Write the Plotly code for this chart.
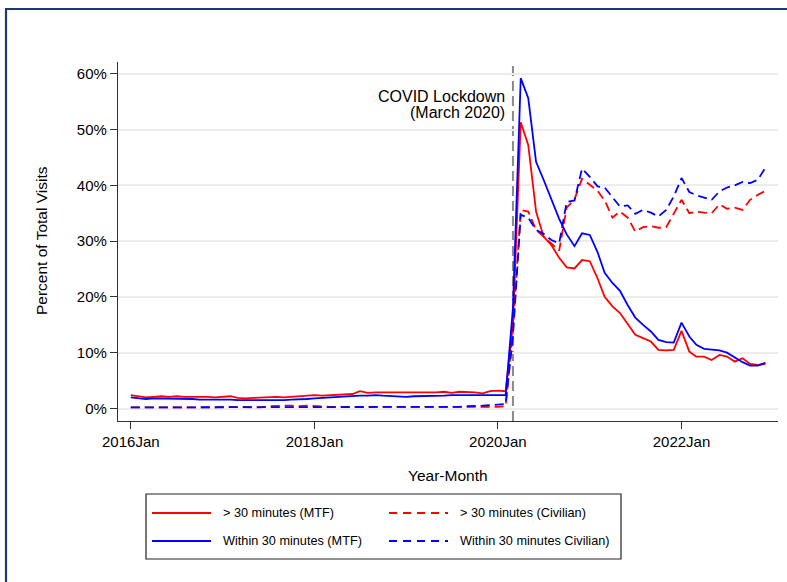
import pandas as pd
import plotly.graph_objects as go

# Monthly share of total visits (%), January 2016 through December 2022
over30_mtf = [
    2.4, 2.2, 2.0, 2.1, 2.2, 2.1, 2.2, 2.1, 2.1, 2.2,
    2.1, 2.0, 2.1, 2.2, 1.9, 1.8, 1.9, 2.0, 2.0, 2.1,
    2.0, 2.1, 2.1, 2.2, 2.4, 2.3, 2.4, 2.5, 2.6, 2.6,
    3.1, 2.8, 2.9, 2.9, 2.8, 2.9, 2.9, 2.8, 2.8, 2.8,
    2.9, 3.0, 2.8, 3.0, 3.0, 2.9, 2.7, 3.1, 3.2, 3.1,
    15.0, 51.3, 47.2, 35.3, 30.8, 29.3, 27.0, 25.3, 25.1, 26.6,
    26.4, 23.3, 20.0, 18.3, 17.1, 15.0, 13.2, 12.6, 12.0, 10.5,
    10.4, 10.5, 13.9, 10.2, 9.3, 9.3, 8.7, 9.6, 9.3, 8.4,
    9.0, 8.0, 7.8, 8.0,
]
within30_mtf = [
    2.0, 1.9, 1.7, 1.8, 1.8, 1.7, 1.7, 1.7, 1.7, 1.6,
    1.6, 1.6, 1.7, 1.6, 1.5, 1.5, 1.5, 1.5, 1.4, 1.5,
    1.5, 1.6, 1.6, 1.7, 1.8, 1.9, 2.0, 2.1, 2.2, 2.2,
    2.3, 2.3, 2.4, 2.3, 2.2, 2.1, 2.1, 2.2, 2.2, 2.3,
    2.3, 2.3, 2.4, 2.4, 2.4, 2.4, 2.3, 2.4, 2.4, 2.4,
    18.0, 59.2, 55.6, 44.2, 41.0, 37.5, 34.0, 31.2, 29.1, 31.4,
    31.1, 28.0, 24.3, 22.5, 21.1, 18.5, 16.3, 15.0, 13.8, 12.3,
    11.9, 11.8, 15.4, 12.9, 11.4, 10.7, 10.5, 10.4, 10.0, 9.2,
    8.3, 7.7, 7.7, 8.2,
]
over30_civ = [
    0.2, 0.2, 0.1, 0.1, 0.1, 0.2, 0.2, 0.2, 0.2, 0.2,
    0.2, 0.2, 0.3, 0.3, 0.3, 0.3, 0.2, 0.2, 0.4, 0.5,
    0.5, 0.5, 0.4, 0.5, 0.4, 0.3, 0.3, 0.3, 0.3, 0.3,
    0.3, 0.3, 0.3, 0.3, 0.3, 0.3, 0.3, 0.3, 0.3, 0.3,
    0.2, 0.2, 0.2, 0.3, 0.3, 0.3, 0.3, 0.3, 0.3, 0.4,
    14.0, 35.6, 35.3, 32.0, 30.8, 29.6, 28.3, 36.0, 37.5, 41.2,
    40.1, 39.0, 37.3, 34.2, 35.3, 34.2, 31.7, 32.5, 32.7, 32.4,
    32.5, 34.8, 37.4, 35.0, 35.3, 35.1, 35.0, 36.6, 35.8, 36.0,
    35.6, 37.4, 38.3, 39.0,
]
within30_civ = [
    0.2, 0.2, 0.2, 0.2, 0.2, 0.2, 0.2, 0.2, 0.2, 0.2,
    0.2, 0.2, 0.2, 0.2, 0.2, 0.2, 0.3, 0.3, 0.3, 0.3,
    0.3, 0.3, 0.3, 0.3, 0.3, 0.3, 0.3, 0.3, 0.3, 0.3,
    0.3, 0.3, 0.3, 0.3, 0.3, 0.3, 0.3, 0.3, 0.3, 0.3,
    0.3, 0.3, 0.3, 0.3, 0.4, 0.4, 0.5, 0.6, 0.7, 0.8,
    13.0, 34.7, 34.2, 32.0, 31.3, 30.2, 29.6, 37.0, 37.3, 43.0,
    41.5, 39.8, 39.6, 37.8, 36.2, 36.4, 34.9, 35.6, 35.1, 34.4,
    35.6, 38.0, 41.3, 38.8, 38.2, 37.8, 37.4, 38.9, 39.6, 40.0,
    40.6, 40.4, 41.0, 43.2,
]

months = pd.date_range("2016-01-01", periods=len(over30_mtf), freq="MS")

x_tick_vals = ["2016-01-01", "2018-01-01", "2020-01-01", "2022-01-01"]
x_tick_text = ["2016Jan", "2018Jan", "2020Jan", "2022Jan"]
y_tick_vals = [0, 10, 20, 30, 40, 50, 60]
y_tick_text = ["0%", "10%", "20%", "30%", "40%", "50%", "60%"]

lockdown = "2020-03-01"

RED = "#ff0000"
BLUE = "#0000ff"
FONT = "Liberation Sans, Arial, Helvetica, sans-serif"
DASH = "9px,5px"

series = [
    ("> 30 minutes (MTF)", over30_mtf, RED, "solid"),
    ("> 30 minutes (Civilian)", over30_civ, RED, DASH),
    ("Within 30 minutes (MTF)", within30_mtf, BLUE, "solid"),
    ("Within 30 minutes Civilian)", within30_civ, BLUE, DASH),
]

fig = go.Figure()
for name, vals, color, dash in series:
    fig.add_trace(go.Scatter(
        x=months, y=vals, mode="lines", name=name,
        line=dict(color=color, width=1.8, dash=dash),
        showlegend=False,
    ))

# Plot area geometry in pixels (used for placing the hand-built legend)
W, H = 787, 582
ML, MR, MT, MB = 118, 9, 62, 161
PW, PH = W - ML - MR, H - MT - MB


def px_x(px):
    return (px - ML) / PW


def px_y(py):
    return (H - MB - py) / PH


shapes = []
annotations = []

# Outer graph frame
shapes.append(dict(type="rect", xref="paper", yref="paper",
                   x0=px_x(6), x1=px_x(W + 20), y0=px_y(H + 20), y1=px_y(9),
                   line=dict(color="#1d3a70", width=2.2), fillcolor="rgba(0,0,0,0)"))

# Lockdown marker
shapes.append(dict(type="line", xref="x", yref="paper", x0=lockdown, x1=lockdown,
                   y0=0, y1=1, layer="between",
                   line=dict(color="#8a8a8a", width=2, dash="10px,5px")))
annotations.append(dict(x=lockdown, xref="x", y=px_y(96), yref="paper",
                        text="COVID Lockdown", showarrow=False, xanchor="right",
                        yanchor="middle", xshift=-6,
                        font=dict(family=FONT, size=16, color="black")))
annotations.append(dict(x=lockdown, xref="x", y=px_y(113), yref="paper",
                        text="(March 2020)", showarrow=False, xanchor="right",
                        yanchor="middle", xshift=-6,
                        font=dict(family=FONT, size=16, color="black")))

# Axis titles
annotations.append(dict(x=px_x(41), y=px_y(241), xref="paper", yref="paper",
                        text="Percent of Total Visits", textangle=-90, showarrow=False,
                        xanchor="center", yanchor="middle",
                        font=dict(family=FONT, size=15.5, color="black")))
annotations.append(dict(x=px_x(448), y=px_y(475), xref="paper", yref="paper",
                        text="Year-Month", showarrow=False,
                        xanchor="center", yanchor="middle",
                        font=dict(family=FONT, size=15.5, color="black")))

# Legend box with two columns
shapes.append(dict(type="rect", xref="paper", yref="paper",
                   x0=px_x(146), x1=px_x(621), y0=px_y(559), y1=px_y(494),
                   line=dict(color="#222222", width=1.2), fillcolor="white"))
legend_slots = [(152, 513), (389, 513), (152, 541), (389, 541)]
for (name, _, color, dash), (lx, ly) in zip(series, legend_slots):
    shapes.append(dict(type="line", xref="paper", yref="paper",
                       x0=px_x(lx), x1=px_x(lx + 59), y0=px_y(ly), y1=px_y(ly),
                       line=dict(color=color, width=1.8,
                                 dash="solid" if dash == "solid" else "8px,6px")))
    annotations.append(dict(x=px_x(lx + 69), y=px_y(ly), xref="paper", yref="paper",
                            text=name, showarrow=False, xanchor="left", yanchor="middle",
                            font=dict(family=FONT, size=12.7, color="black")))

fig.update_layout(
    width=W, height=H,
    margin=dict(l=ML, r=MR, t=MT, b=MB, pad=0),
    paper_bgcolor="white", plot_bgcolor="white",
    font=dict(family=FONT, color="black"),
    shapes=shapes, annotations=annotations,
    xaxis=dict(
        type="date", range=["2015-11-11", "2023-01-20"],
        tickvals=x_tick_vals, ticktext=x_tick_text,
        tickfont=dict(family=FONT, size=15, color="black"),
        showgrid=False, zeroline=False,
        showline=True, linecolor="#333333", linewidth=1.3,
        ticks="outside", ticklen=7, tickwidth=1.3, tickcolor="#333333",
    ),
    yaxis=dict(
        range=[-2.24, 62.1],
        tickvals=y_tick_vals, ticktext=y_tick_text,
        tickfont=dict(family=FONT, size=15, color="black"),
        showgrid=True, gridcolor="#ececec", gridwidth=1.5,
        zeroline=False,
        showline=True, linecolor="#333333", linewidth=1.3,
        ticks="outside", ticklen=7, tickwidth=1.3, tickcolor="#333333",
    ),
)

fig.write_html("out.html")
